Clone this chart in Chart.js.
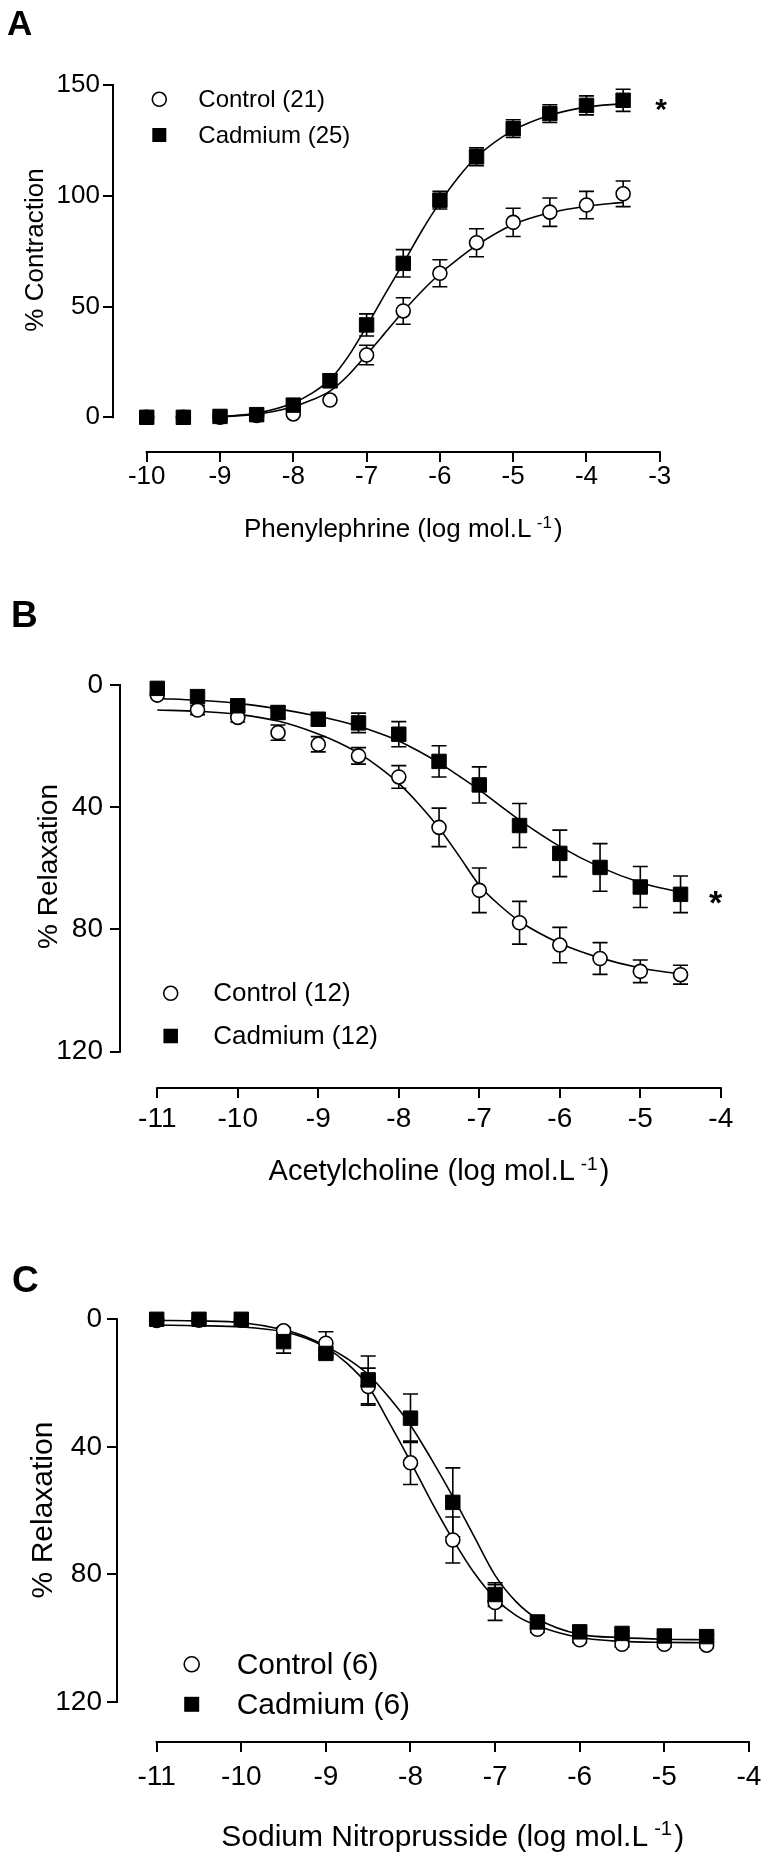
<!DOCTYPE html>
<html><head><meta charset="utf-8">
<script src="https://cdn.jsdelivr.net/npm/chart.js@4.4.1/dist/chart.umd.min.js"></script>
<style>
html,body{margin:0;padding:0;background:#fff;}
#wrap{position:relative;width:770px;height:1856px;background:#fff;}
canvas{position:absolute;left:0;}
</style></head><body>
<div id="wrap">
<canvas id="cA" width="770" height="560" style="top:0px"></canvas>
<canvas id="cB" width="770" height="640" style="top:560px"></canvas>
<canvas id="cC" width="770" height="656" style="top:1200px"></canvas>
</div>
<script>
// ---------------- DATA ----------------
// Panel A: Phenylephrine
const doseA = [-10,-9.5,-9,-8.5,-8,-7.5,-7,-6.5,-6,-5.5,-5,-4.5,-4,-3.5];
const ctrlA = [0,0,0,0.8,1.5,7.8,28.1,48.0,65.0,78.8,88.0,92.6,95.8,100.9];
const ctrlSemA = [0,0,0,0,0,0,4.4,6.0,6.1,6.3,6.4,6.4,6.2,5.8];
const cadA = [0,0,0.4,1.2,5.5,16.5,41.7,69.5,98.0,117.6,130.3,137.1,140.8,143.1];
const cadSemA = [0,0,0,0,0,3.0,5.0,6.2,4.0,4.0,4.0,4.0,4.3,5.0];
const fitXA = [-9,-8.5,-8,-7.75,-7.5,-7.25,-7,-6.75,-6.5,-6.25,-6,-5.75,-5.5,-5,-4.5,-4,-3.5];
const fitCtrlA = [0.2,1.4,4.8,7.8,11.8,19.0,28.3,38.0,47.8,56.8,64.8,71.5,77.6,87.0,92.3,95.3,97.0];
const fitCadA = [0.3,1.9,6.5,10.8,17.0,27.5,41.0,55.5,69.5,84.0,97.0,108.3,117.5,129.5,136.3,140.0,141.6];
const xTicksA = [-10,-9,-8,-7,-6,-5,-4,-3];
const yTicksA = [0,50,100,150];
const legendA = ['Control (21)','Cadmium (25)'];
const xTitleA = ['Phenylephrine (log mol.L', '-1', ')'];
const yTitleA = '% Contraction';

// Panel B: Acetylcholine
const doseB = [-11,-10.5,-10,-9.5,-9,-8.5,-8,-7.5,-7,-6.5,-6,-5.5,-5,-4.5];
const ctrlB = [3.3,8.2,10.6,15.6,19.4,23.2,30.1,46.6,67.2,77.8,85.1,89.5,93.7,94.8];
const ctrlSemB = [0,1.5,1.5,2.5,2.5,2.7,3.7,6.3,7.3,7.0,5.8,5.2,3.7,3.1];
const cadB = [1.1,3.8,6.8,9.0,11.2,12.4,16.1,25.0,32.7,46.0,55.1,59.7,66.1,68.5];
const cadSemB = [0,0,1.5,2.0,2.0,3.2,4.1,5.1,5.9,7.2,7.6,7.8,6.7,6.0];
const fitXB = [-11,-10.5,-10,-9.5,-9,-8.75,-8.5,-8.25,-8,-7.75,-7.5,-7.25,-7,-6.75,-6.5,-6,-5.5,-5,-4.5];
const fitCtrlB = [8.2,8.6,9.6,11.8,16.0,18.8,22.3,26.8,32.2,39.0,46.8,56.0,65.5,72.0,77.3,84.5,89.3,92.6,94.6];
const fitCadB = [4.4,5.0,6.0,7.8,10.2,11.7,13.5,15.7,18.3,21.7,25.5,29.8,34.3,39.3,44.2,52.8,59.6,64.6,67.9];
const xTicksB = [-11,-10,-9,-8,-7,-6,-5,-4];
const yTicksB = [0,40,80,120];
const legendB = ['Control (12)','Cadmium (12)'];
const xTitleB = ['Acetylcholine (log mol.L', '-1', ')'];
const yTitleB = '% Relaxation';

// Panel C: Sodium Nitroprusside
const doseC = [-11,-10.5,-10,-9.5,-9,-8.5,-8,-7.5,-7,-6.5,-6,-5.5,-5,-4.5];
const ctrlC = [0.4,0.3,0.3,3.6,7.5,21.1,45.0,69.2,88.8,97.2,100.5,101.9,101.9,102.2];
const ctrlSemC = [0,0,0,1.0,3.6,5.8,6.8,7.2,5.6,1.0,0.8,0.8,0.8,0.8];
const cadC = [0,0,0,7.0,10.7,19.0,31.0,57.4,86.3,94.9,98.0,98.5,99.3,99.5];
const cadSemC = [0,0,0,3.6,1.0,7.5,7.6,10.8,3.7,1.0,1.0,0.8,0.8,0.8];
const fitXC = [-11,-10.5,-10,-9.5,-9.25,-9,-8.75,-8.5,-8.25,-8,-7.75,-7.5,-7.25,-7,-6.75,-6.5,-6,-5.5,-5,-4.5];
const fitCtrlC = [1.8,2.0,2.4,3.9,5.8,8.9,13.8,20.9,32.5,44.6,57.3,69.0,79.4,87.5,92.9,96.1,99.8,101.0,101.3,101.4];
const fitCadC = [0.3,0.5,1.0,3.3,5.3,8.4,12.3,17.3,24.6,33.2,44.0,55.6,68.0,80.3,88.6,93.9,98.8,99.8,100.3,100.5];
const xTicksC = [-11,-10,-9,-8,-7,-6,-5,-4];
const yTicksC = [0,40,80,120];
const legendC = ['Control (6)','Cadmium (6)'];
const xTitleC = ['Sodium Nitroprusside (log mol.L', '-1', ')'];
const yTitleC = '% Relaxation';

// ---------------- RENDERING ----------------
const FAMILY = '"Liberation Sans", Arial, Helvetica, sans-serif';

const errorBarPlugin = {
  id: 'errorBars',
  beforeDatasetsDraw(chart, args, o) {
    const ctx = chart.ctx, xs = chart.scales.x, ys = chart.scales.y;
    ctx.save();
    ctx.strokeStyle = '#000';
    ctx.lineWidth = o.width;
    chart.data.datasets.forEach(ds => {
      if (!ds.sem) return;
      ds.data.forEach((p, i) => {
        const s = ds.sem[i];
        if (!s) return;
        const px = xs.getPixelForValue(p.x);
        const y1 = ys.getPixelForValue(p.y - s), y2 = ys.getPixelForValue(p.y + s);
        ctx.beginPath();
        ctx.moveTo(px, y1); ctx.lineTo(px, y2);
        ctx.moveTo(px - o.cap, y1); ctx.lineTo(px + o.cap, y1);
        ctx.moveTo(px - o.cap, y2); ctx.lineTo(px + o.cap, y2);
        ctx.stroke();
      });
    });
    ctx.restore();
  }
};

const decorPlugin = {
  id: 'decor',
  afterDraw(chart, args, o) {
    const ctx = chart.ctx, xs = chart.scales.x, ys = chart.scales.y, ca = chart.chartArea;
    ctx.save();
    ctx.fillStyle = '#000';
    ctx.strokeStyle = '#000';
    // detached axis lines
    ctx.lineWidth = o.axisW;
    const hw = o.axisW / 2;
    const ax = Math.round(ca.left), ay = Math.round(ca.bottom);
    const ya = ys.getPixelForValue(o.yLine[0]), yb = ys.getPixelForValue(o.yLine[1]);
    ctx.beginPath();
    ctx.moveTo(ax, Math.min(ya, yb) - hw);
    ctx.lineTo(ax, Math.max(ya, yb) + hw);
    ctx.moveTo(xs.getPixelForValue(o.xLine[0]) - hw, ay);
    ctx.lineTo(xs.getPixelForValue(o.xLine[1]) + hw, ay);
    ctx.stroke();

    // panel letter
    ctx.font = 'bold ' + o.letterSize + 'px ' + FAMILY;
    ctx.textAlign = 'left'; ctx.textBaseline = 'alphabetic';
    ctx.fillText(o.letter, o.letterX, o.letterY);

    // y title (rotated)
    ctx.save();
    ctx.font = o.yTitleSize + 'px ' + FAMILY;
    ctx.translate(o.yTitleX, o.yTitleY);
    ctx.rotate(-Math.PI / 2);
    ctx.textAlign = 'center'; ctx.textBaseline = 'alphabetic';
    ctx.fillText(o.yTitle, 0, 0);
    ctx.restore();

    // x title with superscript
    const s = o.xTitleSize, ss = Math.round(s * 0.65);
    const mainFont = s + 'px ' + FAMILY, supFont = ss + 'px ' + FAMILY;
    ctx.textAlign = 'left'; ctx.textBaseline = 'alphabetic';
    ctx.font = mainFont;
    const w1 = ctx.measureText(o.xTitle[0]).width;
    const w3 = ctx.measureText(o.xTitle[2]).width;
    ctx.font = supFont;
    const w2 = ctx.measureText(o.xTitle[1]).width;
    const g1 = s * 0.2, g2 = s * 0.08;
    const total = w1 + g1 + w2 + g2 + w3;
    const cx = (xs.getPixelForValue(o.xLine[0]) + xs.getPixelForValue(o.xLine[1])) / 2;
    const x0 = cx - total / 2;
    ctx.font = mainFont;
    ctx.fillText(o.xTitle[0], x0, o.xTitleY);
    ctx.font = supFont;
    ctx.fillText(o.xTitle[1], x0 + w1 + g1, o.xTitleY - s * 0.36);
    ctx.font = mainFont;
    ctx.fillText(o.xTitle[2], x0 + w1 + g1 + w2 + g2, o.xTitleY);

    // legend
    ctx.lineWidth = 1.6;
    ctx.beginPath();
    ctx.arc(o.legX, o.legY[0], o.legR, 0, Math.PI * 2);
    ctx.fillStyle = '#fff'; ctx.fill(); ctx.stroke();
    ctx.fillStyle = '#000';
    ctx.fillRect(o.legX - o.legSq / 2, o.legY[1] - o.legSq / 2, o.legSq, o.legSq);
    ctx.font = o.legSize + 'px ' + FAMILY;
    ctx.textAlign = 'left'; ctx.textBaseline = 'middle';
    ctx.fillText(o.legend[0], o.legTextX, o.legY[0] + 1);
    ctx.fillText(o.legend[1], o.legTextX, o.legY[1] + 1);

    // significance asterisk
    if (o.star) {
      ctx.font = 'bold ' + o.star.size + 'px ' + FAMILY;
      ctx.textAlign = 'center'; ctx.textBaseline = 'alphabetic';
      ctx.fillText('*', o.star.x, o.star.y + o.star.size * 0.57);
    }
    ctx.restore();
  }
};

function pts(xs, ys) { return xs.map((x, i) => ({ x: x, y: ys[i] })); }

function buildPanel(id, d, L) {
  const tickFont = { family: FAMILY, size: L.tickSize };
  return new Chart(document.getElementById(id), {
    type: 'scatter',
    data: {
      datasets: [
        { type: 'line', data: pts(d.fitX, d.fitCtrl), borderColor: '#000', borderWidth: 1.6, pointRadius: 0,
          cubicInterpolationMode: 'monotone', fill: false, order: 4, clip: false },
        { type: 'line', data: pts(d.fitX, d.fitCad), borderColor: '#000', borderWidth: 1.6, pointRadius: 0,
          cubicInterpolationMode: 'monotone', fill: false, order: 3, clip: false },
        { type: 'scatter', data: pts(d.dose, d.ctrl), sem: d.ctrlSem, pointStyle: 'circle', pointRadius: 7,
          backgroundColor: '#fff', borderColor: '#000', borderWidth: 1.6, order: 2, clip: false },
        { type: 'scatter', data: pts(d.dose, d.cad), sem: d.cadSem, pointStyle: 'rect', pointRadius: 10.2,
          backgroundColor: '#000', borderColor: '#000', borderWidth: 1, order: 1, clip: false }
      ]
    },
    options: {
      responsive: false, animation: false, devicePixelRatio: 1,
      events: [],
      layout: { autoPadding: false, padding: { left: 0, top: L.top, right: L.right, bottom: 0 } },
      plugins: {
        legend: { display: false }, tooltip: { enabled: false },
        errorBars: { width: 1.6, cap: 7.5 },
        decor: L.decor
      },
      scales: {
        x: {
          type: 'linear', position: 'bottom', min: L.xMin, max: L.xMax,
          afterFit(s) { s.height = L.xH; },
          afterBuildTicks(s) { s.ticks = d.xTicks.map(v => ({ value: v })); },
          ticks: { font: tickFont, color: '#000', padding: L.xPad, autoSkip: false, maxRotation: 0,
                   callback: v => String(v) },
          grid: { display: true, drawOnChartArea: false, drawTicks: true, tickLength: 10, color: '#000', lineWidth: 2 },
          border: { display: false }
        },
        y: {
          type: 'linear', position: 'left', min: L.yMin, max: L.yMax, reverse: L.reverse,
          afterFit(s) { s.width = L.yW; },
          afterBuildTicks(s) { s.ticks = d.yTicks.map(v => ({ value: v })); },
          ticks: { font: tickFont, color: '#000', padding: L.yPad, autoSkip: false,
                   callback: v => String(v) },
          grid: { display: true, drawOnChartArea: false, drawTicks: true, tickLength: 10, color: '#000', lineWidth: 2 },
          border: { display: false }
        }
      }
    },
    plugins: [errorBarPlugin, decorPlugin]
  });
}

buildPanel('cA',
  { dose: doseA, ctrl: ctrlA, ctrlSem: ctrlSemA, cad: cadA, cadSem: cadSemA,
    fitX: fitXA, fitCtrl: fitCtrlA, fitCad: fitCadA, xTicks: xTicksA, yTicks: yTicksA },
  { top: 85, right: 90, xH: 108, yW: 113, xMin: -10.46, xMax: -2.724, yMin: -15.66, yMax: 150, reverse: false,
    tickSize: 26, xPad: -1, yPad: 3,
    decor: { axisW: 2, yLine: [yTicksA[0], yTicksA[yTicksA.length - 1]], xLine: [xTicksA[0], xTicksA[xTicksA.length - 1]],
      letter: 'A', letterSize: 35, letterX: 7, letterY: 35,
      yTitle: yTitleA, yTitleSize: 26, yTitleX: 43, yTitleY: 250,
      xTitle: xTitleA, xTitleSize: 26, xTitleY: 537,
      legend: legendA, legX: 159.3, legY: [99.3, 135], legR: 7, legSq: 14, legTextX: 198.3, legSize: 24,
      star: { x: 661, y: 102, size: 30 } } });

buildPanel('cB',
  { dose: doseB, ctrl: ctrlB, ctrlSem: ctrlSemB, cad: cadB, cadSem: cadSemB,
    fitX: fitXB, fitCtrl: fitCtrlB, fitCad: fitCadB, xTicks: xTicksB, yTicks: yTicksB },
  { top: 110, right: 30, xH: 112, yW: 120, xMin: -11.463, xMax: -3.7615, yMin: -4.909, yMax: 131.88, reverse: true,
    tickSize: 28, xPad: 4, yPad: 7,
    decor: { axisW: 2, yLine: [yTicksB[0], yTicksB[yTicksB.length - 1]], xLine: [xTicksB[0], xTicksB[xTicksB.length - 1]],
      letter: 'B', letterSize: 37, letterX: 11, letterY: 67,
      yTitle: yTitleB, yTitleSize: 28, yTitleX: 57, yTitleY: 306.5,
      xTitle: xTitleB, xTitleSize: 29, xTitleY: 620,
      legend: legendB, legX: 170.7, legY: [433.3, 476], legR: 7, legSq: 14.5, legTextX: 213.3, legSize: 26,
      star: { x: 715.5, y: 335, size: 34 } } });

buildPanel('cC',
  { dose: doseC, ctrl: ctrlC, ctrlSem: ctrlSemC, cad: cadC, cadSem: cadSemC,
    fitX: fitXC, fitCtrl: fitCtrlC, fitCad: fitCadC, xTicks: xTicksC, yTicks: yTicksC },
  { top: 104, right: 5, xH: 114, yW: 117, xMin: -11.469, xMax: -3.810, yMin: -4.797, yMax: 132.54, reverse: true,
    tickSize: 28, xPad: 8, yPad: 5,
    decor: { axisW: 2, yLine: [yTicksC[0], yTicksC[yTicksC.length - 1]], xLine: [xTicksC[0], xTicksC[xTicksC.length - 1]],
      letter: 'C', letterSize: 37, letterX: 12, letterY: 92,
      yTitle: yTitleC, yTitleSize: 30, yTitleX: 52, yTitleY: 310,
      xTitle: xTitleC, xTitleSize: 30, xTitleY: 646,
      legend: legendC, legX: 191.7, legY: [464.3, 504.3], legR: 7.5, legSq: 15, legTextX: 236.7, legSize: 30,
      star: null } });
</script>
</body></html>
